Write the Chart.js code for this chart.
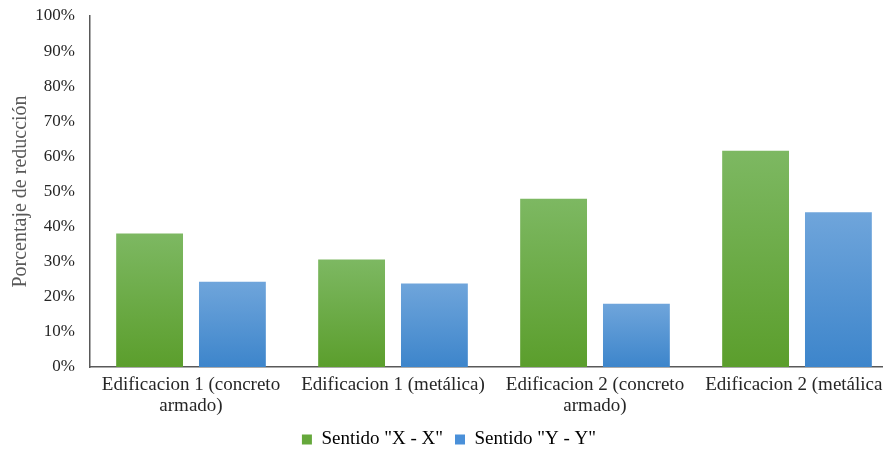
<!DOCTYPE html>
<html><head><meta charset="utf-8">
<script src="https://cdn.jsdelivr.net/npm/chart.js@4/dist/chart.umd.min.js"></script>
<style>
html,body{margin:0;padding:0;background:#fff;overflow:hidden;width:883px;height:449px}
#wrap{position:absolute;left:0;top:0;width:900px;height:449px}
</style></head>
<body><div id="wrap"><canvas id="c"></canvas></div>
<script>
// Reducción por edificación — sentido X vs Y
const CATS=[['Edificacion 1 (concreto','armado)'],'Edificacion 1 (metálica)',['Edificacion 2 (concreto','armado)'],'Edificacion 2 (metálica)'];
const SERIES=['Sentido "X - X"','Sentido "Y - Y"'];
const XX=[38.0,30.6,47.9,61.6];
const YY=[24.3,23.8,18.0,44.1];
const YTICKS=[0,10,20,30,40,50,60,70,80,90,100];

const INK='#262626', AXIS='#595959', TITLE='#595959';
const GREEN_TOP='#7db862', GREEN_BOT='#5b9e2c';
const BLUE_TOP='#6fa5db', BLUE_BOT='#3d85cb';
Chart.defaults.font.family="'Liberation Serif','Times New Roman',serif";
Chart.defaults.font.size=19;
Chart.defaults.color=INK;

// gradient per bar, from the bar's top down to the baseline
function grad(top,bot){
  return c=>{
    const ch=c.chart, ys=ch.scales.y;
    if(!ys || c.parsed==null) return bot;
    const y0=ys.getPixelForValue(c.parsed.y), y1=ys.getPixelForValue(0);
    if(!isFinite(y0)||!isFinite(y1)||y0===y1) return bot;
    const g=ch.ctx.createLinearGradient(0,y0,0,y1);
    g.addColorStop(0,top); g.addColorStop(1,bot);
    return g;
  };
}

new Chart(document.getElementById('c'),{type:'bar',
  data:{labels:CATS,datasets:[
    {label:SERIES[0],data:XX,backgroundColor:grad(GREEN_TOP,GREEN_BOT),borderWidth:0},
    {label:SERIES[1],data:YY,backgroundColor:grad(BLUE_TOP,BLUE_BOT),borderWidth:0}
  ]},
  options:{animation:false,responsive:true,maintainAspectRatio:false,
    categoryPercentage:0.82,barPercentage:0.807,
    layout:{padding:{top:0,right:2,left:0,bottom:-10}},
    plugins:{
      legend:{position:'bottom',labels:{boxWidth:10,boxHeight:10,padding:12,color:INK,font:{size:19},
        generateLabels:ch=>ch.data.datasets.map((d,i)=>({text:d.label,fillStyle:i?'#4a90d9':'#65a83b',strokeStyle:'transparent',lineWidth:0,datasetIndex:i}))}},
      tooltip:{enabled:false}
    },
    scales:{
      x:{afterFit:s=>{s.height=51;},
         grid:{display:false,drawTicks:false},border:{display:true,color:AXIS,width:1.5},
         ticks:{color:INK,maxRotation:0,autoSkip:false,padding:8,font:{size:19,lineHeight:1.1}}},
      y:{min:0,max:100,afterBuildTicks:s=>{s.ticks=YTICKS.map(v=>({value:v}));},
         afterFit:s=>{s.width=90;s.paddingTop=16;s.paddingBottom=0;},
         grid:{display:false,drawTicks:false},border:{display:true,color:AXIS,width:1.5},
         ticks:{color:INK,padding:15,font:{size:17},callback:v=>v+'%'},
         title:{display:true,text:'Porcentaje de reducción',color:TITLE,font:{size:20,lineHeight:1.1},padding:{top:10,bottom:0}}}
    }}
});
</script></body></html>
